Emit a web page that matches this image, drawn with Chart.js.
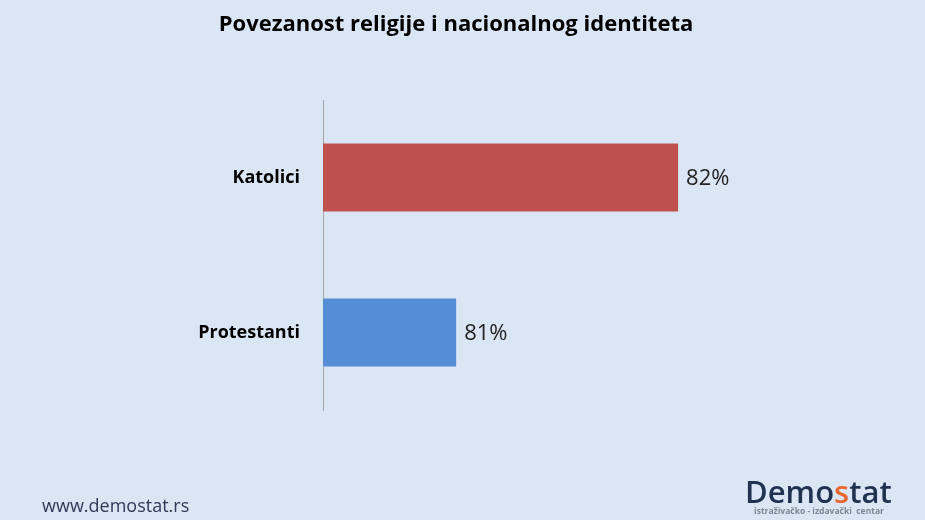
<!DOCTYPE html>
<html>
<head>
<meta charset="utf-8">
<script src="https://cdn.jsdelivr.net/npm/chart.js@4"></script>
<style>
  html, body { margin: 0; padding: 0; background: #dbe6f5; }
  #wrap { width: 925px; height: 520px; position: relative; }
</style>
</head>
<body>
<div id="wrap"><canvas id="c" width="925" height="520"></canvas></div>
<script>
const categories = ["Katolici", "Protestanti"];
const values = [82, 81];
const valueLabels = ["82%", "81%"];
const barColors = ["#c0504d", "#558ed5"];
const titleText = "Povezanost religije i nacionalnog identiteta";

const bgPlugin = {
  id: 'bg',
  beforeDraw(chart) {
    const ctx = chart.ctx;
    ctx.save();
    ctx.fillStyle = '#dbe6f5';
    ctx.fillRect(0, 0, chart.width, chart.height);
    ctx.restore();
  },
  afterDraw(chart) {
    const ctx = chart.ctx;
    ctx.save();
    // title
    ctx.fillStyle = '#000';
    ctx.font = 'bold 22px "Open Sans"';
    ctx.textAlign = 'center';
    ctx.textBaseline = 'middle';
    ctx.fillText(titleText, 456, 25);
    // value labels
    const meta = chart.getDatasetMeta(0);
    ctx.font = '22px "Open Sans"';
    ctx.fillStyle = '#222';
    ctx.textAlign = 'left';
    meta.data.forEach((bar, i) => {
      ctx.fillText(valueLabels[i], bar.x + 8, bar.y + 1);
    });
    // footer
    ctx.font = '18px "Open Sans"';
    ctx.fillStyle = '#2c3a55';
    ctx.textAlign = 'left';
    ctx.fillText('www.demostat.rs', 42, 507);
    // logo
    ctx.font = '600 31px "Open Sans"';
    ctx.textBaseline = 'alphabetic';
    let x = 745;
    const parts = [['Demo', '#1f3250'], ['s', '#e8672f'], ['tat', '#1f3250']];
    parts.forEach(([t, c]) => {
      ctx.fillStyle = c;
      ctx.fillText(t, x, 503);
      x += ctx.measureText(t).width;
    });
    ctx.font = 'bold 8.5px "Open Sans"';
    ctx.fillStyle = '#7d8594';
    ctx.textAlign = 'center';
    ctx.fillText('istraživačko - izdavački  centar', 819, 514);
    ctx.restore();
  }
};

new Chart(document.getElementById('c'), {
  type: 'bar',
  data: {
    labels: categories,
    datasets: [{
      data: values,
      backgroundColor: barColors,
      borderWidth: 0,
      barPercentage: 0.44,
      categoryPercentage: 1.0
    }]
  },
  options: {
    indexAxis: 'y',
    responsive: false,
    animation: false,
    layout: { padding: { top: 100, bottom: 110, left: 0, right: 25 } },
    plugins: { legend: { display: false }, tooltip: { enabled: false }, title: { display: false } },
    scales: {
      x: {
        display: false,
        min: 80.4,
        max: 83
      },
      y: {
        afterFit(scale) { scale.width = 323; },
        grid: { display: false, drawTicks: false },
        border: { display: true, color: '#a6a6a6', width: 1 },
        ticks: {
          color: '#000',
          padding: 23,
          font: { family: '"Open Sans"', size: 18, weight: 'bold' }
        }
      }
    }
  },
  plugins: [bgPlugin]
});
</script>
</body>
</html>
